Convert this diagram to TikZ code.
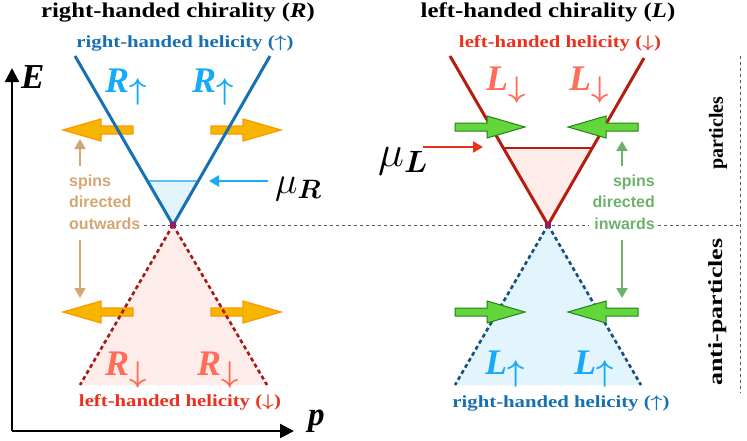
\RequirePackage{fix-cm}
\documentclass[tikz,border=0pt]{standalone}
\usepackage{fontspec}
\setmainfont{Liberation Serif}
\newfontfamily\spinfont{Liberation Sans}
\usepackage{amsmath}
\usepackage{amssymb}
\usetikzlibrary{arrows.meta, positioning, calc}

\definecolor{helblue}{RGB}{22,112,178}
\definecolor{skyblue}{RGB}{22,170,248}
\definecolor{iceblue}{RGB}{226,244,252}
\definecolor{lineblue}{RGB}{95,192,248}
\definecolor{darkred}{RGB}{180,30,15}
\definecolor{dashred}{RGB}{165,25,20}
\definecolor{dashblue}{RGB}{20,80,125}
\definecolor{helred}{RGB}{236,48,30}
\definecolor{salmon}{RGB}{255,108,88}
\definecolor{blush}{RGB}{253,236,233}
\definecolor{spinorange}{RGB}{246,182,0}
\definecolor{rimorange}{RGB}{255,150,0}
\definecolor{spingreen}{RGB}{98,214,58}
\definecolor{rimgreen}{RGB}{36,128,28}
\definecolor{spintan}{RGB}{212,166,112}
\definecolor{sage}{RGB}{108,178,108}
\definecolor{vertexdot}{RGB}{150,28,92}

\newcommand{\chlab}[2]{{\fontsize{36}{36}\selectfont\bfseries\itshape #1}\raisebox{-7pt}{\fontsize{30}{30}\selectfont$\boldsymbol{#2}$}}
\newcommand{\helarrow}[1]{$\boldsymbol{#1}$}
\newcommand{\widen}[2]{\scalebox{#1}[1]{#2}}

\tikzset{
	pics/spin arrow/.style={code={
		\draw[pic actions] (0,4) -- (32,4) -- (32,11) -- (70,0) -- (32,-11) -- (32,-4) -- (0,-4) -- cycle;
	}}
}

\begin{document}
\begin{tikzpicture}[
		x=1pt, y=-1pt,
		title/.style={font=\fontsize{21}{21}\selectfont\bfseries, anchor=base, inner sep=0pt},
		heli/.style={font=\fontsize{17}{17}\selectfont\bfseries, anchor=base, inner sep=0pt},
		chir/.style={anchor=base west, inner sep=0pt},
		spins/.style={font=\fontsize{16}{21.5}\selectfont\spinfont\bfseries, inner sep=3pt},
		side/.style={font=\fontsize{20}{20}\selectfont\bfseries, rotate=90, inner sep=0pt},
		cone/.style={line width=3pt},
		anticone/.style={line width=2.6pt, dash pattern=on 4pt off 3pt},
		axis/.style={line width=2.5pt, -{Triangle[length=14pt, width=14pt]}},
		pointer/.style={line width=2.4pt, -{Triangle[length=10pt, width=11pt]}},
		guide/.style={gray!70!black, line width=1pt, dash pattern=on 3pt off 3pt},
		orangearrow/.style={fill=spinorange, draw=rimorange, line width=1.2pt},
		greenarrow/.style={fill=spingreen, draw=rimgreen, line width=1pt}
	]
	\useasboundingbox (0,0) rectangle (747,440);

	% filled regions
	\fill[iceblue] (147.5,181) -- (198.3,181) -- (173,225) -- cycle;
	\fill[blush] (173,225) -- (80,385) -- (267,385) -- cycle;
	\fill[blush] (503.3,148) -- (592.3,148) -- (548,225) -- cycle;
	\fill[iceblue] (548,225) -- (455,385) -- (641,385) -- cycle;

	% spin directions
	\node[spins, spintan, anchor=base west, align=left] (spinsOut) at (66,229) {spins\\directed\\outwards};
	\node[spins, sage, anchor=base east, align=right] (spinsIn) at (658,229) {spins\\directed\\inwards};

	% separators
	\coordinate (vtxR) at (173,225);
	\coordinate (vtxL) at (548,225);
	\coordinate (sepEnd) at (740,225);
	\draw[guide] (spinsOut.east |- vtxR) -- (spinsIn.west |- vtxR);
	\draw[guide] (spinsIn.east |- vtxR) -- (sepEnd);
	\draw[guide] (740,56) -- (740,393);

	% orange spin arrows (behind the cone)
	\pic[orangearrow, rotate=180] at (133,130) {spin arrow};
	\pic[orangearrow] at (211,130) {spin arrow};
	\pic[orangearrow, rotate=180] at (133,312) {spin arrow};
	\pic[orangearrow] at (211,312) {spin arrow};

	% cones
	\draw[lineblue, line width=2.5pt] (147.5,181) -- (198.3,181);
	\draw[helblue, cone] (75,56) -- (vtxR) -- (270,56);
	\draw[dashred, anticone] (vtxR) -- (80,385);
	\draw[dashred, anticone] (vtxR) -- (267,385);
	\draw[darkred, line width=2.5pt] (503.3,148) -- (592.3,148);
	\draw[darkred, cone] (450,56) -- (vtxL) -- (644,58);
	\draw[dashblue, anticone] (vtxL) -- (455,385);
	\draw[dashblue, anticone] (vtxL) -- (641,385);

	% green spin arrows (in front of the cone)
	\pic[greenarrow] at (455,127) {spin arrow};
	\pic[greenarrow, rotate=180] at (638,127) {spin arrow};
	\pic[greenarrow] at (455,312) {spin arrow};
	\pic[greenarrow, rotate=180] at (638,312) {spin arrow};

	% vertices
	\fill[vertexdot] (170,222) rectangle (176,228);
	\fill[vertexdot] (545,222) rectangle (551,228);

	% axes
	\coordinate (origin) at (12,431);
	\coordinate (Etip) at (12,68);
	\coordinate (ptip) at (294,431);
	\draw[axis] (origin) -- (Etip);
	\draw[axis] (origin) -- (ptip);
	\node[anchor=base west, inner sep=0pt, font=\fontsize{35}{35}\selectfont\bfseries\itshape] (Elab) at (21,88) {E};
	\node[anchor=base west, inner sep=0pt, font=\fontsize{33}{33}\selectfont\bfseries\itshape] (plab) at (308,425) {p};

	% titles and helicities
	\node[title] (titleR) at (178,17) {\widen{1.18}{right-handed chirality (\textit{R})}};
	\node[title] (titleL) at (548,17) {\widen{1.18}{left-handed chirality (\textit{L})}};
	\node[heli, helblue] (heliRtop) at (185,47) {\widen{1.22}{right-handed helicity (\helarrow{\uparrow})}};
	\node[heli, helred] (heliLtop) at (560,47) {\widen{1.22}{left-handed helicity (\helarrow{\downarrow})}};
	\node[heli, helred] (heliRbot) at (180,406) {\widen{1.22}{left-handed helicity (\helarrow{\downarrow})}};
	\node[heli, helblue] (heliLbot) at (561,407) {\widen{1.22}{right-handed helicity (\helarrow{\uparrow})}};

	% chirality labels
	\node[chir, skyblue] (Rup1) at (105,92) {\chlab{R}{\uparrow}};
	\node[chir, skyblue] (Rup2) at (192,92) {\chlab{R}{\uparrow}};
	\node[chir, salmon] (Rdn1) at (105,375) {\chlab{R}{\downarrow}};
	\node[chir, salmon] (Rdn2) at (197,375) {\chlab{R}{\downarrow}};
	\node[chir, salmon] (Ldn1) at (486,90) {\chlab{L}{\downarrow}};
	\node[chir, salmon] (Ldn2) at (569,90) {\chlab{L}{\downarrow}};
	\node[chir, skyblue] (Lup1) at (485,374) {\chlab{L}{\uparrow}};
	\node[chir, skyblue] (Lup2) at (574,374) {\chlab{L}{\uparrow}};

	% chemical potentials
	\node[anchor=base west, inner sep=0pt, font=\fontsize{38}{38}\selectfont] (muR) at (275,193) {$\mu_{\boldsymbol{R}}$};
	\node[anchor=base west, inner sep=0pt, font=\fontsize{44}{44}\selectfont] (muL) at (378,166) {$\mu_{\boldsymbol{L}}$};
	\coordinate (muRtip) at (209,181);
	\coordinate (muLtip) at (483,147);
	\draw[pointer, skyblue] (268,181) -- (muRtip);
	\draw[pointer, helred] (423,147) -- (muLtip);

	% spin direction pointers
	\coordinate (outUp) at (80,139);
	\coordinate (outDown) at (80,298);
	\coordinate (inUp) at (622,141);
	\coordinate (inDown) at (622,298);
	\draw[pointer, spintan, line width=2pt] (80,166) -- (outUp);
	\draw[pointer, spintan, line width=2pt] (80,240) -- (outDown);
	\draw[pointer, sage, line width=2pt] (622,166) -- (inUp);
	\draw[pointer, sage, line width=2pt] (622,240) -- (inDown);

	% particle / anti-particle sides
	\node[side] (partLab) at (718,133) {particles};
	\node[side] (antiLab) at (718,312) {\widen{1.3}{anti-particles}};
\end{tikzpicture}
\end{document}
